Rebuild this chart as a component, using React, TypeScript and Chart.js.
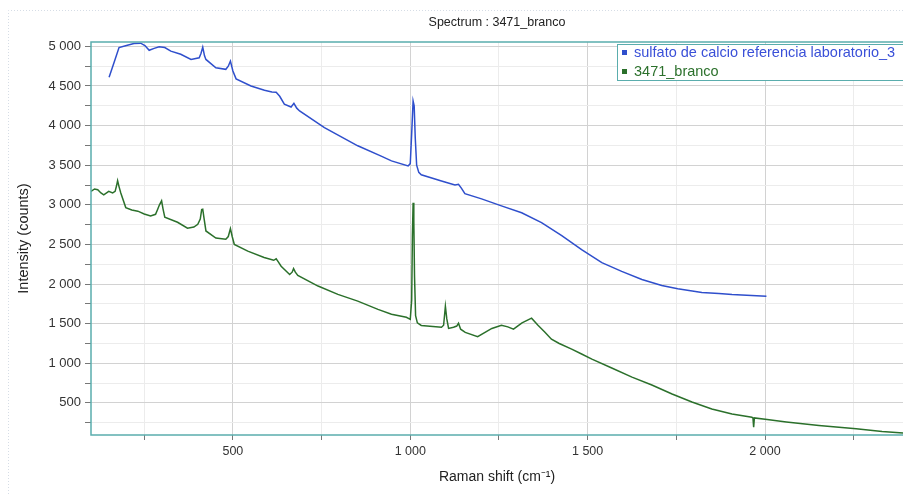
import React, { useEffect, useRef } from "react";
import { Chart, registerables } from "chart.js";

Chart.register(...registerables);

const chartTitle = "Spectrum : 3471_branco";
const xTitle = "Raman shift (cm⁻¹)";
const yTitle = "Intensity (counts)";
const seriesNames = ["sulfato de calcio referencia laboratorio_3", "3471_branco"];

const xTicks = [250, 500, 750, 1000, 1250, 1500, 1750, 2000, 2250];
const yTicks = [250, 500, 750, 1000, 1250, 1500, 1750, 2000, 2250, 2500, 2750, 3000, 3250, 3500, 3750, 4000, 4250, 4500, 4750, 5000];

const blueX = [151, 165, 179, 200, 221, 240, 252, 264, 278, 292, 308, 325, 353, 382, 405, 410, 415, 420, 424, 452, 480, 487, 493, 500, 509, 551, 589, 610, 622, 632, 645, 664, 672, 680, 688, 758, 852, 918, 947, 994, 1000, 1004, 1008, 1011, 1014, 1018, 1024, 1031, 1088, 1107, 1126, 1136, 1144, 1154, 1201, 1257, 1314, 1370, 1427, 1483, 1540, 1596, 1653, 1709, 1754, 1822, 1870, 1907, 2004];
const blueY = [4610, 4795, 4985, 5010, 5035, 5040, 5010, 4950, 4975, 4995, 4985, 4940, 4900, 4835, 4855, 4910, 4990, 4880, 4835, 4730, 4710, 4750, 4815, 4690, 4590, 4500, 4445, 4425, 4420, 4370, 4270, 4235, 4280, 4220, 4185, 3975, 3745, 3615, 3555, 3490, 3520, 3900, 4310, 4250, 3850, 3500, 3410, 3380, 3300, 3275, 3250, 3260, 3210, 3140, 3075, 2987, 2900, 2775, 2610, 2435, 2270, 2160, 2057, 1982, 1940, 1895, 1880, 1868, 1847];

const greenX = [100, 110, 119, 128, 136, 150, 161, 168, 172, 175, 179, 184, 198, 215, 232, 250, 268, 282, 288, 293, 299, 303, 308, 344, 372, 390, 401, 408, 412, 415, 419, 424, 452, 480, 487, 493, 498, 504, 542, 588, 615, 622, 628, 636, 660, 667, 671, 676, 683, 740, 796, 852, 909, 947, 989, 1000, 1004, 1006, 1008, 1010, 1012, 1015, 1020, 1031, 1088, 1094, 1099, 1103, 1108, 1122, 1131, 1136, 1142, 1155, 1190, 1230, 1257, 1275, 1291, 1315, 1342, 1360, 1379, 1398, 1420, 1455, 1483, 1512, 1568, 1625, 1681, 1738, 1794, 1850, 1907, 1963, 1966, 1968, 1970, 2006, 2060, 2152, 2257, 2330, 2396];
const greenY = [3168, 3200, 3190, 3150, 3127, 3170, 3150, 3170, 3240, 3305, 3230, 3150, 2965, 2935, 2920, 2885, 2860, 2880, 2945, 3000, 3050, 2950, 2845, 2780, 2705, 2720, 2755, 2820, 2940, 2945, 2820, 2670, 2580, 2565, 2600, 2700, 2600, 2500, 2415, 2335, 2300, 2318, 2280, 2225, 2120, 2150, 2195, 2150, 2108, 1975, 1870, 1785, 1680, 1618, 1580, 1555, 1800, 2600, 3027, 2800, 2100, 1600, 1510, 1478, 1455, 1480, 1720, 1560, 1440, 1455, 1470, 1505, 1430, 1390, 1335, 1440, 1480, 1460, 1430, 1510, 1570, 1480, 1395, 1304, 1250, 1178, 1117, 1052, 940, 826, 726, 613, 512, 424, 361, 318, 310, 195, 310, 290, 260, 215, 173, 140, 118];

const BLUE = "#2f4fcc";
const GREEN = "#2b702b";
const TEAL = "#5aadad";
const FONT = "'Liberation Sans', Arial, sans-serif";

const fmt = (v: number) => {
  if (v % 500 !== 0) return "";
  if (v >= 1000) return `${Math.floor(v / 1000)} ${String(v % 1000).padStart(3, "0")}`;
  return String(v);
};

const decorPlugin = {
  id: "decor",
  beforeDraw(chart: any) {
    const { ctx } = chart;
    ctx.save();
    ctx.fillStyle = "#ffffff";
    ctx.fillRect(0, 0, chart.width, chart.height);
    ctx.strokeStyle = "#d6dde6";
    ctx.setLineDash([1, 2]);
    ctx.lineWidth = 1;
    ctx.beginPath();
    ctx.moveTo(8.5, chart.height);
    ctx.lineTo(8.5, 10.5);
    ctx.lineTo(chart.width, 10.5);
    ctx.stroke();
    ctx.restore();
  },
  afterDraw(chart: any) {
    const { ctx, chartArea } = chart;
    ctx.save();
    // plot frame
    ctx.strokeStyle = TEAL;
    ctx.lineWidth = 1.5;
    ctx.strokeRect(chartArea.left, chartArea.top, chartArea.right - chartArea.left + 4, chartArea.bottom - chartArea.top);
    // title
    ctx.fillStyle = "#222";
    ctx.font = `12.5px ${FONT}`;
    ctx.textAlign = "center";
    ctx.textBaseline = "middle";
    ctx.fillText(chartTitle, (chartArea.left + chartArea.right) / 2, 23);
    // legend
    const lx = 617.5, ly = 44.5;
    ctx.fillStyle = "#ffffff";
    ctx.fillRect(lx, ly, 300, 36);
    ctx.strokeStyle = TEAL;
    ctx.lineWidth = 1;
    ctx.strokeRect(lx, ly, 300, 36);
    ctx.font = `14.5px ${FONT}`;
    ctx.textAlign = "left";
    ctx.fillStyle = BLUE;
    ctx.fillRect(622, 50, 5, 5);
    ctx.fillStyle = "#3a50d8";
    ctx.fillText(seriesNames[0], 634, 53);
    ctx.fillStyle = GREEN;
    ctx.fillRect(622, 69, 5, 5);
    ctx.fillText(seriesNames[1], 634, 72);
    ctx.restore();
  },
};

export default function App() {
  const ref = useRef<HTMLCanvasElement | null>(null);
  useEffect(() => {
    if (!ref.current) return;
    const gridColor = (c: any) => (c.tick && c.tick.value % 500 === 0 ? "#d2d2d2" : "#ececec");
    const chart = new Chart(ref.current, {
      type: "scatter",
      data: {
        datasets: [
          {
            label: seriesNames[0],
            data: blueX.map((x, i) => ({ x, y: blueY[i] })),
            showLine: true,
            borderColor: BLUE,
            borderWidth: 1.5,
            pointRadius: 0,
            tension: 0,
          },
          {
            label: seriesNames[1],
            data: greenX.map((x, i) => ({ x, y: greenY[i] })),
            showLine: true,
            borderColor: GREEN,
            borderWidth: 1.5,
            pointRadius: 0,
            tension: 0,
          },
        ],
      },
      options: {
        responsive: false,
        animation: false,
        layout: { padding: { top: 42, right: 0, bottom: 0, left: 0 } },
        plugins: { legend: { display: false }, title: { display: false }, tooltip: { enabled: false } },
        scales: {
          x: {
            type: "linear",
            min: 100,
            max: 2389,
            afterFit: (s: any) => { s.height = 59; },
            afterBuildTicks: (s: any) => { s.ticks = xTicks.map((value) => ({ value })); },
            border: { display: false },
            grid: { color: gridColor, tickColor: "#777", tickLength: 5, lineWidth: 1 },
            ticks: { autoSkip: false, maxRotation: 0, padding: 4, color: "#333", font: { family: FONT, size: 12.5 }, callback: (v: any) => fmt(Number(v)) },
            title: { display: true, text: xTitle, color: "#222", font: { family: FONT, size: 14 }, padding: { top: 0, bottom: 8 } },
          },
          y: {
            type: "linear",
            min: 95,
            max: 5055,
            afterFit: (s: any) => { s.width = 91; },
            afterBuildTicks: (s: any) => { s.ticks = yTicks.map((value) => ({ value })); },
            border: { display: false },
            grid: { color: gridColor, tickColor: "#777", tickLength: 6, lineWidth: 1 },
            ticks: { autoSkip: false, padding: 4, color: "#333", font: { family: FONT, size: 13 }, callback: (v: any) => fmt(Number(v)) },
            title: { display: true, text: yTitle, color: "#222", font: { family: FONT, size: 14.5 }, padding: { top: 15, bottom: 0 } },
          },
        },
      },
      plugins: [decorPlugin],
    });
    return () => chart.destroy();
  }, []);
  return (
    <div style={{ position: "fixed", left: 0, top: 0, width: 903, height: 494 }}>
      <canvas ref={ref} width={903} height={494} style={{ display: "block" }} />
    </div>
  );
}
